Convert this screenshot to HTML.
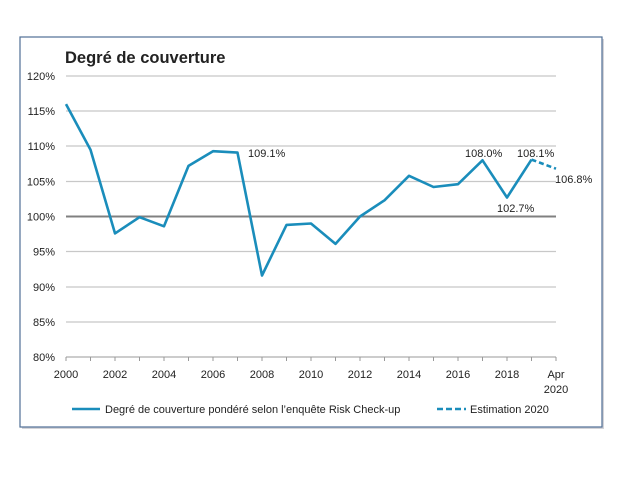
<!DOCTYPE html>
<html><head><meta charset="utf-8"><style>
body{margin:0;background:#fff;width:629px;height:472px;overflow:hidden}
svg text{font-family:"Liberation Sans",sans-serif;fill:#222}
</style></head><body>
<svg width="629" height="472" xmlns="http://www.w3.org/2000/svg">
<rect x="22" y="39" width="582" height="390" fill="#b8b8c0" opacity="0.6"/>
<rect x="20" y="37" width="582" height="390" fill="#fff" stroke="#4f6f95" stroke-width="1.2"/>
<text x="65" y="63" font-size="16.5" font-weight="bold" fill="#000">Degré de couverture</text>
<g stroke="#c8c8c8" stroke-width="1.2">
<line x1="66" x2="556" y1="76" y2="76"/><line x1="66" x2="556" y1="111" y2="111"/>
<line x1="66" x2="556" y1="146" y2="146"/><line x1="66" x2="556" y1="181.5" y2="181.5"/>
<line x1="66" x2="556" y1="251.5" y2="251.5"/><line x1="66" x2="556" y1="287" y2="287"/>
<line x1="66" x2="556" y1="322" y2="322"/>
</g>
<line x1="66" x2="556" y1="216.5" y2="216.5" stroke="#808080" stroke-width="2"/>
<line x1="66" x2="556" y1="357" y2="357" stroke="#999" stroke-width="1"/>
<g stroke="#999" stroke-width="1">
<path d="M66 357v4M90.5 357v4M115 357v4M139.5 357v4M164 357v4M188.5 357v4M213 357v4M237.5 357v4M262 357v4M286.5 357v4M311 357v4M335.5 357v4M360 357v4M384.5 357v4M409 357v4M433.5 357v4M458 357v4M482.5 357v4M507 357v4M531.5 357v4M556 357v4"/>
</g>
<g font-size="11" text-anchor="end">
<text x="55" y="80">120%</text><text x="55" y="115">115%</text><text x="55" y="150">110%</text>
<text x="55" y="185.5">105%</text><text x="55" y="220.5">100%</text><text x="55" y="255.5">95%</text>
<text x="55" y="291">90%</text><text x="55" y="326">85%</text><text x="55" y="361">80%</text>
</g>
<g font-size="11" text-anchor="middle">
<text x="66" y="378">2000</text><text x="115" y="378">2002</text><text x="164" y="378">2004</text>
<text x="213" y="378">2006</text><text x="262" y="378">2008</text><text x="311" y="378">2010</text>
<text x="360" y="378">2012</text><text x="409" y="378">2014</text><text x="458" y="378">2016</text>
<text x="507" y="378">2018</text><text x="556" y="378">Apr</text><text x="556" y="393">2020</text>
</g>
<polyline fill="none" stroke="#1a8dbb" stroke-width="2.6" stroke-linejoin="round" points="66,104.1 90.5,149.8 115,233.4 139.5,217.2 164,226.3 188.5,165.9 213,151.2 237.5,152.6 262,275.5 286.5,224.9 311,223.5 335.5,243.9 360,216.5 384.5,200.3 409,175.8 433.5,187 458,184.2 482.5,160.3 507,197.5 531.5,159.6"/>
<line x1="531.5" y1="159.6" x2="556" y2="168.7" stroke="#1a8dbb" stroke-width="2.6" stroke-dasharray="5,3"/>
<g font-size="11">
<text x="248" y="157">109.1%</text>
<text x="465" y="157">108.0%</text>
<text x="517" y="157">108.1%</text>
<text x="555" y="183">106.8%</text>
<text x="497" y="212">102.7%</text>
</g>
<line x1="72" y1="409" x2="100" y2="409" stroke="#1a8dbb" stroke-width="2.6"/>
<text x="105" y="413" font-size="11">Degré de couverture pondéré selon l’enquête Risk Check-up</text>
<line x1="437" y1="409" x2="466" y2="409" stroke="#1a8dbb" stroke-width="2.6" stroke-dasharray="6,3"/>
<text x="470" y="413" font-size="11">Estimation 2020</text>
</svg>
</body></html>
